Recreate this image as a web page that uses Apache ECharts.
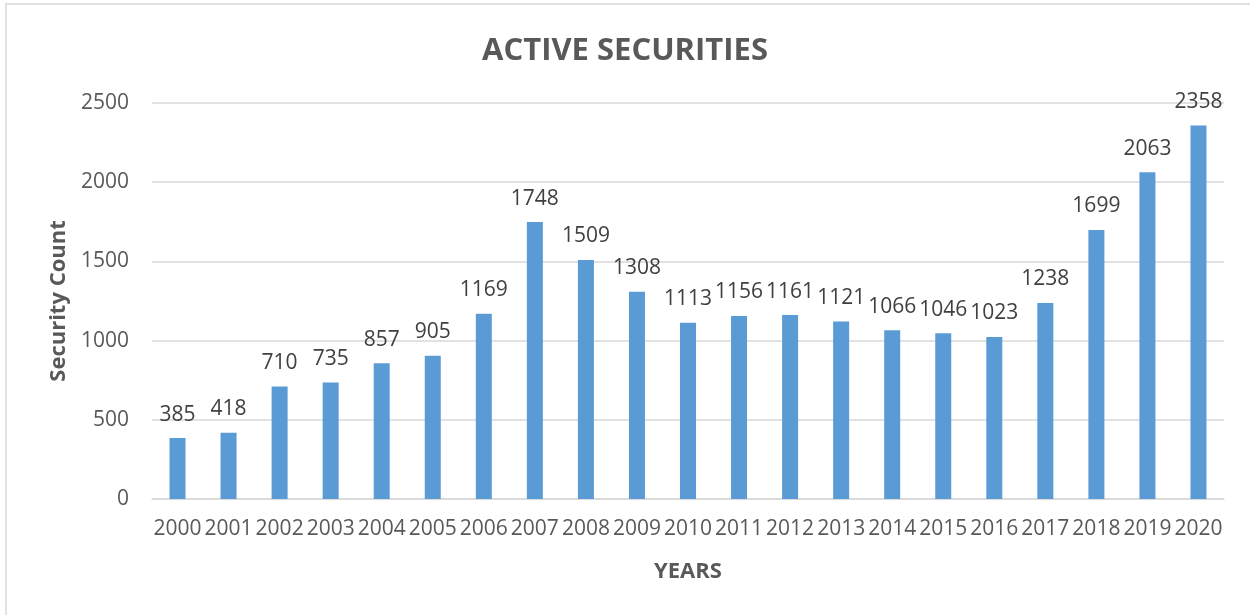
<!DOCTYPE html>
<html>
<head>
<meta charset="utf-8">
<script src="https://cdn.jsdelivr.net/npm/echarts@6/dist/echarts.min.js"></script>
<style>
html,body{margin:0;padding:0;background:#fff;}
#chart{width:1250px;height:615px;}
</style>
</head>
<body>
<div id="chart"></div>
<script>
const years = ['2000','2001','2002','2003','2004','2005','2006','2007','2008','2009','2010','2011','2012','2013','2014','2015','2016','2017','2018','2019','2020'];
const securityCount = [385,418,710,735,857,905,1169,1748,1509,1308,1113,1156,1161,1121,1066,1046,1023,1238,1699,2063,2358];
const yTicks = [0,500,1000,1500,2000,2500];

const chart = echarts.init(document.getElementById('chart'));
const font = '"Open Sans", "Noto Sans", sans-serif';
chart.setOption({
  animation: false,
  backgroundColor: '#fff',
  title: {
    text: 'ACTIVE SECURITIES',
    left: 'center',
    top: 31,
    textStyle: { fontFamily: font, fontSize: 31, fontWeight: 'bold', color: '#595959' }
  },
  graphic: [{
    type: 'rect',
    shape: { x: 6, y: 4, width: 1300, height: 700 },
    style: { fill: 'none', stroke: '#D9D9D9', lineWidth: 1.5 },
    silent: true
  }],
  grid: { left: 152, right: 26, top: 103, bottom: 116 },
  xAxis: {
    type: 'category',
    data: years,
    name: 'YEARS',
    nameLocation: 'middle',
    nameGap: 62,
    nameTextStyle: { fontFamily: font, fontSize: 22, fontWeight: 'bold', color: '#595959' },
    axisLine: { lineStyle: { color: '#D9D9D9', width: 1.5 } },
    axisTick: { show: false },
    axisLabel: { fontFamily: font, fontSize: 21, color: '#595959', margin: 20, interval: 0 }
  },
  yAxis: {
    type: 'value',
    min: yTicks[0],
    max: yTicks[yTicks.length - 1],
    interval: 500,
    name: 'Security Count',
    nameLocation: 'middle',
    nameGap: 81,
    nameTextStyle: { fontFamily: font, fontSize: 22, fontWeight: 'bold', color: '#595959' },
    axisLine: { show: false },
    axisTick: { show: false },
    splitLine: { lineStyle: { color: '#D9D9D9', width: 1.5 } },
    axisLabel: { fontFamily: font, fontSize: 21, color: '#595959', margin: 23, formatter: v => String(v) }
  },
  series: [{
    type: 'bar',
    data: securityCount,
    barWidth: 16,
    itemStyle: { color: '#5B9BD5' },
    label: {
      show: true,
      position: 'top',
      distance: 13,
      fontFamily: font,
      fontSize: 21,
      color: '#404040'
    }
  }]
});
</script>
</body>
</html>
